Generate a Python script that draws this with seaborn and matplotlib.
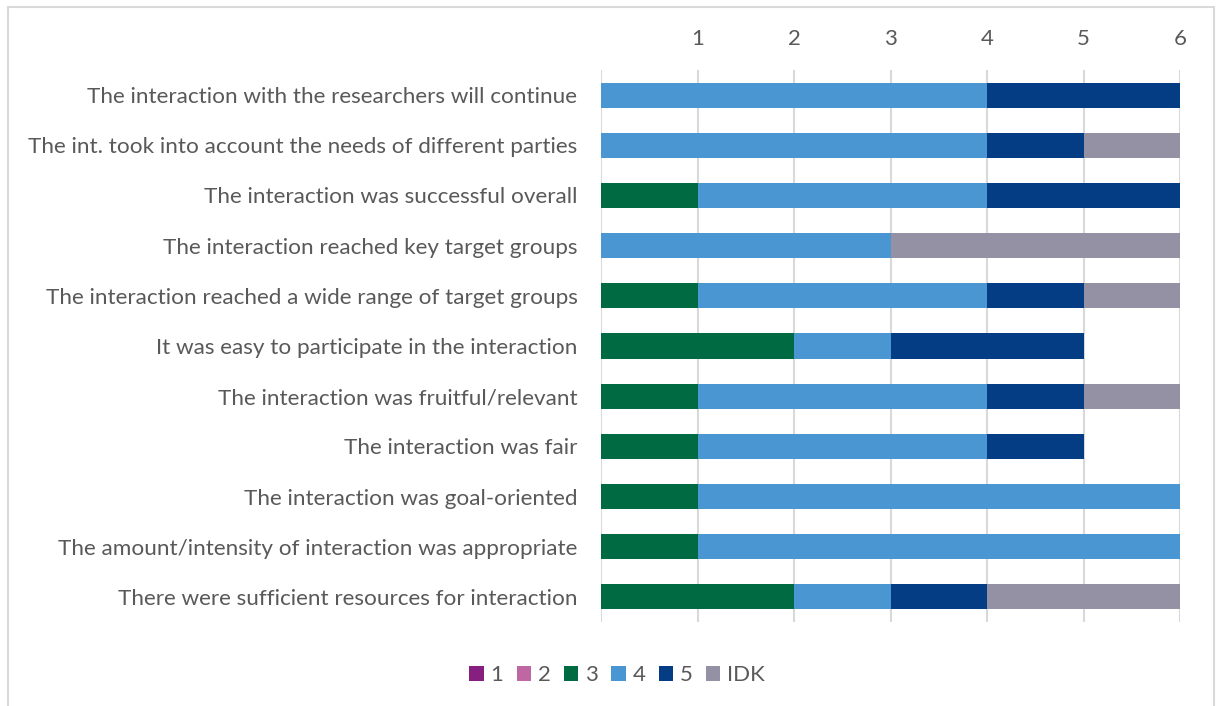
import matplotlib
matplotlib.use("Agg")
import matplotlib.pyplot as plt
from matplotlib.patches import Rectangle, Patch
import numpy as np
import pandas as pd
import seaborn as sns

statements = [
    "The interaction with the researchers will continue",
    "The int. took into account the needs of different parties",
    "The interaction was successful overall",
    "The interaction reached key target groups",
    "The interaction reached a wide range of target groups",
    "It was easy to participate in the interaction",
    "The interaction was fruitful/relevant",
    "The interaction was fair",
    "The interaction was goal-oriented",
    "The amount/intensity of interaction was appropriate",
    "There were sufficient resources for interaction",
]
ratings = ["1", "2", "3", "4", "5", "IDK"]
counts_1 = [0, 0, 0, 0, 0, 0, 0, 0, 0, 0, 0]
counts_2 = [0, 0, 0, 0, 0, 0, 0, 0, 0, 0, 0]
counts_3 = [0, 0, 1, 0, 1, 2, 1, 1, 1, 1, 2]
counts_4 = [4, 4, 3, 3, 3, 1, 3, 3, 5, 5, 1]
counts_5 = [2, 1, 2, 0, 1, 2, 1, 1, 0, 0, 1]
counts_idk = [0, 1, 0, 3, 1, 0, 1, 0, 0, 0, 2]
xticks = [0, 1, 2, 3, 4, 5, 6]
xtick_labels = ["", "1", "2", "3", "4", "5", "6"]

colors = ["#871f80", "#bf67a3", "#006a43", "#4a96d2", "#053d85", "#9591a5"]
text_color = "#595959"
grid_color = "#d9d9d9"

sns.set_theme(style="white")
plt.rcParams["font.family"] = ["Lato", "DejaVu Sans"]

df = pd.DataFrame({
    "statement": statements,
    "1": counts_1, "2": counts_2, "3": counts_3,
    "4": counts_4, "5": counts_5, "IDK": counts_idk,
})
cum = df[ratings].cumsum(axis=1)

fig = plt.figure(figsize=(12.16, 7.06), dpi=100)
fig.patches.append(Rectangle((8 / 1216, -0.05), 1206 / 1216, 1 - 7 / 706 + 0.05,
                             transform=fig.transFigure, fill=False,
                             edgecolor=grid_color, linewidth=1.5, zorder=0))
ax = fig.add_axes([601 / 1216, 1 - 622 / 706, 579 / 1216, 552 / 706])

# stacked bars: draw cumulative totals from the outermost segment inward
for rating, color in reversed(list(zip(ratings, colors))):
    sns.barplot(x=cum[rating], y=df["statement"], orient="h", color=color,
                width=0.5, linewidth=0, saturation=1, ax=ax, zorder=3)

ax.set_xlim(0, 6)
ax.set_ylim(10.5, -0.5)
ax.set_xticks(xticks)
ax.set_xticklabels(xtick_labels)
ax.xaxis.tick_top()
ax.grid(axis="x", color=grid_color, linewidth=1.5, zorder=0)
ax.grid(axis="y", visible=False)
for s in ax.spines.values():
    s.set_visible(False)
ax.tick_params(axis="x", length=0, pad=15, labelsize=16, labelcolor=text_color)
ax.tick_params(axis="y", length=0, pad=17, labelsize=16.2, labelcolor=text_color)
ax.set_xlabel("")
ax.set_ylabel("")

handles = [Patch(facecolor=c, edgecolor="none") for c in colors]
fig.legend(handles, ratings, loc="center", bbox_to_anchor=(617 / 1216, 1 - 675 / 706),
           ncol=6, frameon=False, fontsize=16, handlelength=0.65, handleheight=0.65,
           handletextpad=0.3, columnspacing=0.6, labelcolor=text_color)

fig.savefig("out.png", dpi=100)
